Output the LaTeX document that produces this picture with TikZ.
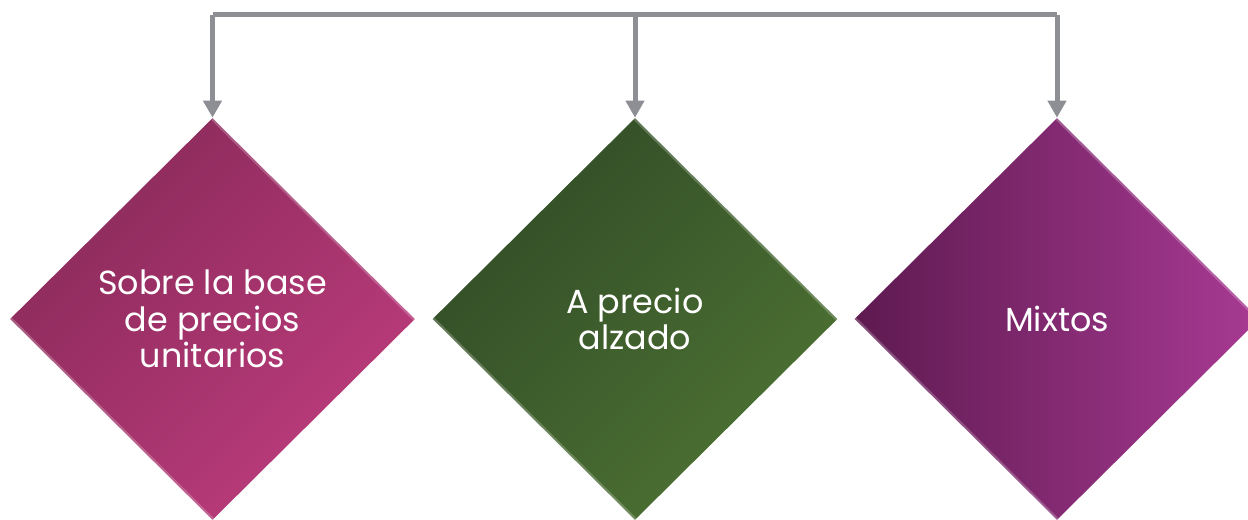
\documentclass[tikz,border=0pt]{standalone}
\usepackage{fontspec}
\setmainfont{Poppins}
\usetikzlibrary{shapes.geometric,arrows.meta}
\definecolor{magA}{HTML}{8A2A5A}
\definecolor{magB}{HTML}{BC3C7C}
\definecolor{grnA}{HTML}{314C27}
\definecolor{grnB}{HTML}{4D7233}
\definecolor{purA}{HTML}{5E1A50}
\definecolor{purB}{HTML}{A83A93}
\definecolor{linkgray}{HTML}{8E8F94}
\tikzset{
  dia/.style={shape=diamond, minimum width=8.1cm, minimum height=8.04cm, inner sep=0pt,
    text=white, align=center, font=\fontsize{19}{20.8}\selectfont},
  link/.style={draw=linkgray, line width=0.1cm, line join=miter},
  tip/.style={-{Triangle[width=0.36cm,length=0.34cm]}},
  bevel/.style={line width=0.1cm, draw=white, draw opacity=0.22},
}
\begin{document}
\begin{tikzpicture}[x=0.02cm,y=-0.02cm]
\useasboundingbox (0,0) rectangle (1248,520);
\clip (0,0) rectangle (1248,520);
\node[dia, left color=magA, right color=magB, shading angle=45] (d1) at (212.5,319) {Sobre la base\\de precios\\unitarios};
\node[dia, left color=grnA, right color=grnB, shading angle=45] (d2) at (635,319) {A precio\\alzado};
\node[dia, left color=purA, right color=purB, shading angle=90] (d3) at (1057,319) {Mixtos};
\foreach \d in {d1,d2,d3}{
  \begin{scope}
    \clip (\d.north) -- (\d.east) -- (\d.south) -- (\d.west) -- cycle;
    \draw[bevel] (\d.west) -- (\d.south);
    \draw[bevel] (\d.north) -- (\d.east);
  \end{scope}
}
\coordinate (j1) at (212.5,15);
\coordinate (j2) at (635,15);
\coordinate (j3) at (1057,15);
\draw[link] (j1) -- (j3);
\draw[link,tip] (j1) -- (d1.north);
\draw[link,tip] (j2) -- (d2.north);
\draw[link,tip] (j3) -- (d3.north);
\end{tikzpicture}
\end{document}
